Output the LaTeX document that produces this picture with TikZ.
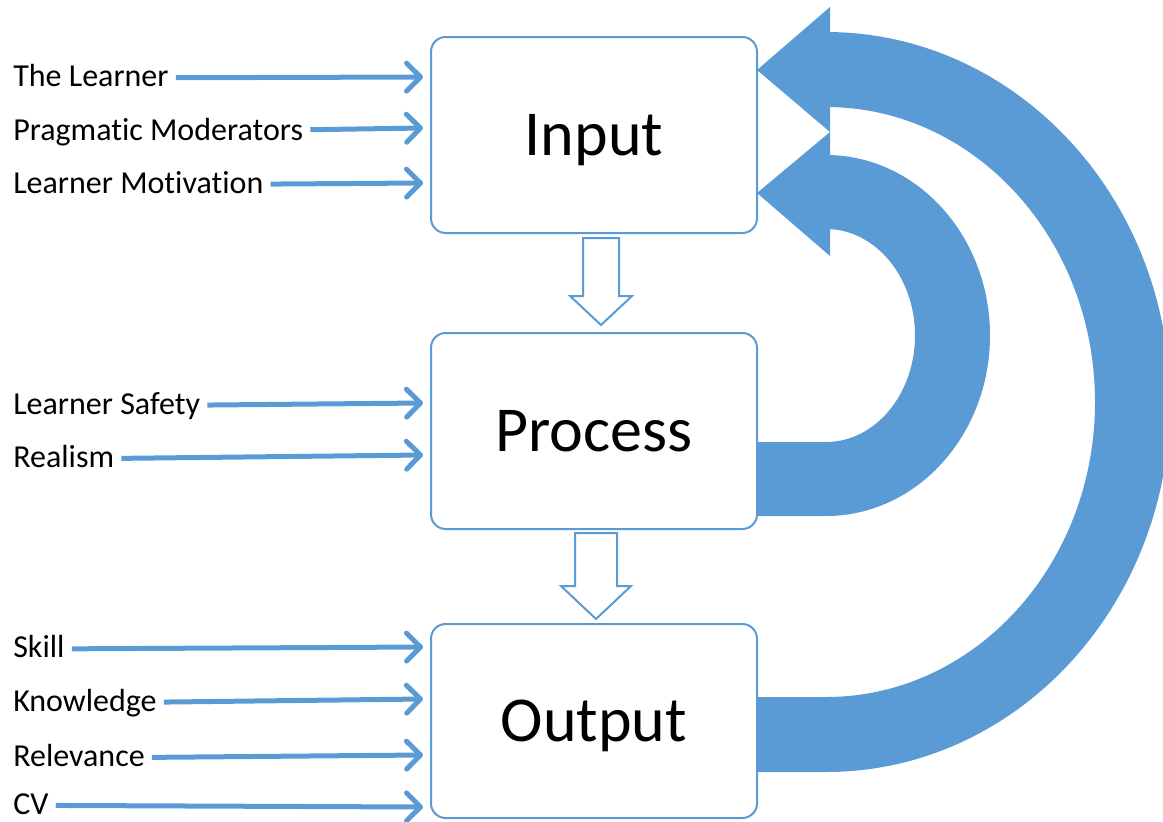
\documentclass[tikz,border=0pt]{standalone}
\usepackage{fontspec}
\setmainfont{Carlito}[Ligatures={NoCommon}]
\usetikzlibrary{arrows.meta}
\definecolor{blu}{RGB}{91,155,213}
\begin{document}
\begin{tikzpicture}[x=0.75pt,y=-0.75pt,
  box/.style={draw=blu,line width=1.5pt,rounded corners=11pt,fill=white,minimum width=244.5pt,inner sep=0pt,font=\fontsize{48}{56}\selectfont,text height=31pt,text depth=0pt},
  lbl/.style={anchor=base west,inner sep=0pt,font=\fontsize{24}{28}\selectfont,text height=16pt,text depth=4pt},
  arr/.style={draw=blu,line width=3.75pt,-{Straight Barb[length=10.5pt,width=21pt,line cap=round,line join=round]},shorten <=5.25pt},
  hollow/.style={draw=blu,line width=1.5pt,fill=white,line join=miter},
  band/.style={fill=blu}]
\clip (0,0) rectangle (1163,821);
\useasboundingbox (0,0) rectangle (1163,821);
% big feedback arrows
\fill[band] (757,697) -- (826,697) arc[start angle=90,end angle=-90,x radius=269,y radius=295]
  -- (830,107) -- (830,132) -- (757,70) -- (830,7) -- (830,32) -- (826,32)
  arc[start angle=-90,end angle=90,x radius=344,y radius=370] -- (757,772) -- cycle;
\fill[band] (757,442) -- (826,442) arc[start angle=90,end angle=-90,x radius=89,y radius=106.5]
  -- (830,229) -- (830,256) -- (757,193) -- (830,132) -- (830,155) -- (826,155)
  arc[start angle=-90,end angle=90,x radius=164,y radius=180.5] -- (757,516) -- cycle;
% boxes
\node[box,minimum height=147pt] (in) at (594,135) {Input};
\node[box,minimum height=147pt] (proc) at (594,431) {Process};
\node[box,minimum height=145.5pt] (out) at (594,721) {Output};
% hollow arrows
\draw[hollow] (583,238) -- (619,238) -- (619,296) -- (632,296) -- (601,325) -- (570,296) -- (583,296) -- cycle;
\draw[hollow] (575,533) -- (617,533) -- (617,586) -- (631,586) -- (596,619) -- (561,586) -- (575,586) -- cycle;
% labels
\node[lbl] (t1) at (13,86) {The Learner};
\node[lbl] (t2) at (13,140) {Pragmatic Moderators};
\node[lbl] (t3) at (13,193) {Learner Motivation};
\node[lbl] (t4) at (13,414) {Learner Safety};
\node[lbl] (t5) at (13,467) {Realism};
\node[lbl] (t6) at (13,657) {Skill};
\node[lbl] (t7) at (13,711) {Knowledge};
\node[lbl] (t8) at (13,766) {Relevance};
\node[lbl,text height=14pt,text depth=1pt] (t9) at (13,814) {CV};
\coordinate (e1) at (423,77);
\coordinate (e2) at (423,128);
\coordinate (e3) at (423,183);
\coordinate (e4) at (423,403);
\coordinate (e5) at (423,455);
\coordinate (e6) at (423,647);
\coordinate (e7) at (423,699);
\coordinate (e8) at (423,755);
\coordinate (e9) at (423,807);
\foreach \i in {1,...,9} {\draw[arr] (t\i) -- (e\i);}
\end{tikzpicture}
\end{document}
